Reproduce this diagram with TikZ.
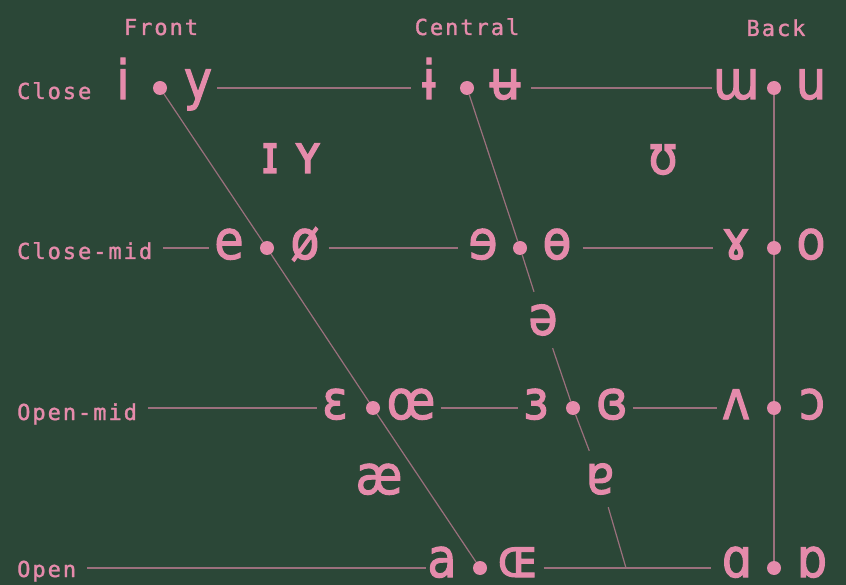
\documentclass[tikz,border=0pt]{standalone}
\usepackage{fontspec}
\newfontfamily\ipafont[FakeStretch=0.88,FakeBold=2]{DejaVu Sans}
\newfontfamily\labfont[LetterSpace=9,FakeBold=1.5]{DejaVu Sans Mono}
\definecolor{bgc}{RGB}{43,71,55}
\definecolor{pk}{RGB}{229,139,171}
\colorlet{lnc}{pk!60!bgc}
\pgfdeclarelayer{bglayer}
\pgfdeclarelayer{linelayer}
\pgfsetlayers{bglayer,linelayer,main}
\begin{document}
\begin{tikzpicture}[x=1pt,y=-1pt,
  ipa/.style={text=pk,font=\ipafont\fontsize{54}{54}\selectfont,inner xsep=5pt,inner ysep=0pt,anchor=base},
  mid/.style={text=pk,font=\ipafont\fontsize{54}{54}\selectfont,inner xsep=5pt,inner ysep=0pt,minimum height=56pt,anchor=center},
  lab/.style={text=pk,font=\labfont\fontsize{22}{22}\selectfont,inner sep=0pt,anchor=base west},
  head/.style={text=pk,font=\labfont\fontsize{22}{22}\selectfont,inner sep=0pt,anchor=base},
  vdot/.style={circle,fill=pk,inner sep=0pt,minimum size=14pt},
  rule/.style={draw=lnc,line width=1.2pt},
  labrule/.style={draw=lnc,line width=1.2pt,shorten <=11pt}]
\begin{pgfonlayer}{bglayer}
\fill[bgc] (0,0) rectangle (846,585);
\end{pgfonlayer}
\useasboundingbox (0,0) rectangle (846,585);
% headers
\node[head] (hF) at (161,35) {Front};
\node[head] (hC) at (467,35) {Central};
\node[head] (hB) at (776,36) {Back};
% row labels
\node[lab] (lC) at (17,99) {Close};
\node[lab] (lCM) at (17,259) {Close-mid};
\node[lab] (lOM) at (17,420) {Open-mid};
\node[lab] (lO) at (17,577) {Open};
% dots
\node[vdot] (d1f) at (160,88) {};
\node[vdot] (d2f) at (267,248) {};
\node[vdot] (d3f) at (373,408) {};
\node[vdot] (d4f) at (480,568) {};
\node[vdot] (d1c) at (467,88) {};
\node[vdot] (d2c) at (520,248) {};
\node[vdot] (d3c) at (573,408) {};
\node[vdot] (d1b) at (774,88) {};
\node[vdot] (d2b) at (774,248) {};
\node[vdot] (d3b) at (774,408) {};
\node[vdot] (d4b) at (774,568) {};
\coordinate (cend) at (626,568);
% close
\node[ipa] (vi) at (123,99) {i};
\node[ipa] (vy) at (198,99) {y};
\node[ipa] (vibar) at (429,99) {ɨ};
\node[ipa] (vubar) at (505,99) {ʉ};
\node[ipa] (vmw) at (736,99) {ɯ};
\node[ipa] (vu) at (811,99) {u};
% near-close
\node[ipa] (vsi) at (270,173) {ɪ};
\node[ipa] (vsy) at (308,173) {ʏ};
\node[ipa] (vups) at (663,174) {ʊ};
% close-mid
\node[ipa] (ve) at (229,259) {e};
\node[ipa] (vos) at (305,259) {ø};
\node[ipa] (vre) at (483,259) {ɘ};
\node[ipa] (vbo) at (557,259) {ɵ};
\node[ipa] (vram) at (736,259) {ɤ};
\node[ipa] (vo) at (811,259) {o};
% mid
\node[mid] (vschwa) at (543,320) {ə};
% open-mid
\node[ipa] (veps) at (335,419) {ɛ};
\node[ipa] (voe) at (411,419) {œ};
\node[ipa] (vreps) at (536,419) {ɜ};
\node[ipa] (vcreps) at (612,419) {ɞ};
\node[ipa] (vturnv) at (736,419) {ʌ};
\node[ipa] (vopeno) at (812,419) {ɔ};
% near-open
\node[ipa] (vae) at (379,494) {æ};
\node[mid] (vturna) at (600,479) {ɐ};
% open
\node[ipa] (va) at (442,577) {a};
\node[ipa] (vOE) at (518,577) {ɶ};
\node[ipa] (valpha) at (737,577) {ɑ};
\node[ipa] (vturnalpha) at (812,577) {ɒ};
\begin{pgfonlayer}{linelayer}
% horizontal rules
\draw[rule,shorten >=6pt] (vy.east |- d1f) -- (vibar.west |- d1c);
\draw[rule,shorten <=6pt,shorten >=-4pt] (vubar.east |- d1c) -- (vmw.west |- d1b);
\draw[labrule] (lCM.east |- d2f) -- (ve.west |- d2f);
\draw[rule,shorten <=4pt,shorten >=5pt] (vos.east |- d2f) -- (vre.west |- d2c);
\draw[rule,shorten <=6pt,shorten >=4pt] (vbo.east |- d2c) -- (vram.west |- d2b);
\draw[labrule] (lOM.east |- d3f) -- (veps.west |- d3f);
\draw[rule] (voe.east |- d3f) -- (vreps.west |- d3c);
\draw[rule] (vcreps.east |- d3c) -- (vturnv.west |- d3b);
\draw[labrule,shorten >=-4pt] (lO.east |- d4f) -- (va.west |- d4f);
\draw[rule,shorten >=6pt] (vOE.east |- d4f) -- (valpha.west |- d4b);
% front edge
\draw[rule] (d1f) -- (d2f) -- (d3f) -- (d4f);
% central edge
\draw[rule] (d1c) -- (d2c) -- (vschwa);
\draw[rule] (vschwa) -- (d3c) -- (vturna);
\draw[rule] (vturna) -- (cend);
% back edge
\draw[rule] (d1b) -- (d2b) -- (d3b) -- (d4b);
\end{pgfonlayer}
\end{tikzpicture}
\end{document}
